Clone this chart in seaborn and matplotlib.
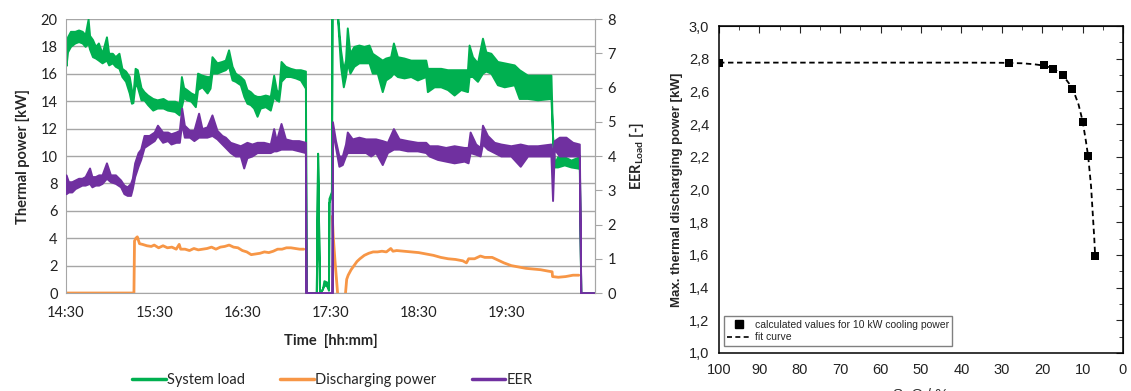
import numpy as np
import pandas as pd
import matplotlib
matplotlib.use("Agg")
import matplotlib.pyplot as plt
from matplotlib.lines import Line2D
from matplotlib.ticker import MultipleLocator, FuncFormatter
import seaborn as sns

# ---------- left panel: minutes after 14:30 ----------
# system load [kW], noise band read as lower / upper edge
green_t = [0, 1, 3, 6, 8.5, 11, 13, 15, 16, 18, 20, 22, 24.5, 27.5, 29, 31.5, 33.5, 36, 38, 40.5,
           43, 44.5, 45.5, 47, 48.5, 51, 53, 55.5, 59, 62, 66, 69, 74, 77, 78.5, 80, 82, 85, 88,
           89.5, 92.5, 96, 98, 99.3, 102.7, 106, 108.4, 110.6, 113, 115.2, 118.6, 121, 123.1,
           125.4, 127.7, 130, 132.2, 135.6, 139, 141.3, 143.1, 144.7, 146.3, 149.3, 152.7, 156.1,
           159.5, 162.9, 163.4, 170.3, 171.2, 172.5, 174.5, 175.5, 177.5, 178.6, 178.9, 180.6,
           181.1, 183.8, 184.6, 186.8, 188.7, 190.2, 191.4, 193.2, 195.9, 199.3, 202.7, 206.2,
           208.4, 211.8, 215.2, 217.5, 220.9, 222.8, 225.5, 230, 234.6, 239.1, 244.8, 245.9,
           250.5, 255, 259.6, 264.1, 268.6, 273.2, 274.3, 276.6, 280, 283.4, 285.7, 289.1, 293.6,
           298.2, 305, 308.4, 314.1, 320.9, 330, 331.1, 332.3, 334.5, 339.1, 343.6, 349.3, 350.3, 360]
green_lo = [16.6, 17.6, 18.0, 18.25, 18.35, 18.25, 18.0, 18.25, 17.8, 17.25, 17.15, 17.0, 16.8, 17.0,
            16.65, 16.8, 16.55, 16.4, 15.8, 15.45, 14.6, 13.85, 13.9, 15.3, 15.05, 14.1, 14.1, 13.75,
            13.35, 13.5, 13.5, 13.35, 13.25, 13.0, 13.6, 14.3, 14.1, 14.0, 13.6, 14.85, 15.05, 14.6,
            14.95, 16.05, 16.05, 16.2, 16.3, 16.55, 15.55, 15.45, 15.2, 14.35, 13.85, 13.75, 13.5,
            12.9, 13.5, 13.6, 13.35, 14.35, 14.1, 14.0, 15.45, 15.8, 15.8, 15.7, 15.55, 14.95, 0, 0,
            10.2, 0, 0.3, 0.6, 0.5, 0.2, 6.6, 7.1, 25, 25, 20.3, 16.55, 15.05, 15.8, 16.8, 16.05,
            16.55, 16.8, 16.8, 16.8, 16.05, 16.05, 14.7, 15.55, 15.8, 16.05, 15.8, 15.7, 15.8, 15.55,
            15.8, 14.7, 15.05, 15.05, 14.85, 14.45, 14.85, 14.7, 15.8, 15.8, 15.45, 16.05, 16.2,
            16.05, 15.2, 15.05, 15.2, 14.2, 14.2, 14.1, 14.2, 11.4, 9.2, 9.2, 9.35, 9.2, 9.1, 0, 0]
green_hi = [17.6, 18.7, 19.1, 19.1, 19.2, 19.1, 18.85, 20.0, 18.8, 18.5, 18.0, 18.25, 17.5, 18.7,
            17.5, 17.5, 17.25, 17.5, 16.4, 16.2, 15.8, 14.85, 14.4, 16.4, 16.3, 15.0, 14.7, 14.45,
            14.2, 14.1, 14.2, 14.0, 14.0, 13.85, 15.8, 15.0, 14.85, 14.6, 14.45, 16.05, 15.9, 15.8,
            15.8, 17.25, 16.8, 16.9, 17.0, 17.75, 16.55, 16.05, 15.8, 15.55, 14.85, 14.7, 14.45,
            14.35, 14.35, 14.45, 14.35, 15.9, 14.85, 14.6, 16.9, 16.55, 16.4, 16.3, 16.3, 16.2, 0, 0,
            10.2, 0, 0.3, 0.9, 0.8, 0.3, 6.9, 7.4, 25, 25, 20.5, 17.75, 16.3, 17.0, 19.35, 17.5,
            18.0, 18.1, 18.0, 18.1, 17.5, 17.25, 17.0, 17.15, 17.25, 18.25, 17.25, 17.15, 17.0, 17.0,
            17.0, 16.4, 16.4, 16.4, 16.3, 16.3, 16.3, 16.3, 18.1, 17.25, 16.8, 18.6, 17.6, 17.5,
            16.9, 16.8, 16.65, 16.3, 15.9, 15.9, 15.9, 11.4, 9.4, 9.95, 9.95, 9.7, 9.95, 0, 0]

# EER [-] (right axis), lower / upper edge of the noise band
eer_t = [0, 1.6, 3.9, 6.2, 8.5, 10.8, 13, 16, 17.6, 19.9, 22.2, 24.5, 27.5, 30.2, 33.6, 37.1, 39.4,
         41.6, 43.9, 45.1, 46.7, 49, 50.8, 53.1, 56.5, 60, 62.2, 65.7, 69.1, 71.4, 74.8, 77.1, 78.7,
         80.5, 84, 87, 90.2, 92.5, 95.9, 99.3, 102.7, 106.1, 108.4, 111.8, 115.2, 118.6, 120.9,
         123.1, 126.5, 130, 134.5, 139, 141.3, 143.1, 146.3, 149.3, 153.8, 158.4, 162.9, 163.3,
         181.0, 181.3, 183.4, 185.7, 188, 190.2, 191.4, 194.8, 199.3, 203.9, 207.3, 210.7, 215.2,
         218.7, 222.8, 226.6, 232.3, 239.1, 244.8, 247.1, 252.8, 258.4, 264.1, 270.9, 273.6, 275,
         278.8, 281.8, 283.4, 286.8, 291.4, 295.9, 302.7, 309.1, 314.1, 320.9, 330, 331.1, 332.3,
         335.7, 340.2, 344.8, 349.3, 350.3, 360]
eer_lo = [2.9, 2.95, 2.95, 3.05, 3.1, 3.15, 3.15, 3.2, 3.1, 3.15, 3.15, 3.2, 3.35, 3.25, 3.2, 3.1,
          2.9, 2.85, 2.85, 3.05, 3.4, 3.7, 3.9, 4.25, 4.35, 4.45, 4.6, 4.4, 4.45, 4.35, 4.4, 4.4,
          4.95, 4.55, 4.55, 4.45, 4.55, 4.55, 4.55, 4.6, 4.5, 4.35, 4.25, 4.1, 4.0, 4.0, 3.65, 3.95,
          4.0, 4.1, 4.1, 4.1, 4.15, 4.15, 4.2, 4.2, 4.2, 4.15, 4.1, 0, 0, 4.75, 4.25, 3.7, 3.75,
          4.0, 4.1, 4.1, 4.1, 4.1, 4.0, 4.1, 3.75, 4.1, 4.2, 4.2, 4.15, 4.15, 4.1, 4.0, 3.9, 3.85,
          3.8, 3.85, 3.8, 4.1, 4.05, 4.0, 4.35, 4.2, 4.1, 4.0, 4.0, 3.7, 4.0, 4.0, 4.0, 2.7, 4.2,
          4.0, 4.0, 4.0, 4.0, 0, 0]
eer_hi = [3.45, 3.25, 3.25, 3.3, 3.35, 3.35, 3.4, 3.65, 3.4, 3.4, 3.45, 3.45, 3.8, 3.45, 3.45, 3.3,
          3.15, 3.1, 3.2, 3.35, 3.8, 4.1, 4.2, 4.6, 4.6, 4.7, 4.9, 4.7, 4.7, 4.65, 4.7, 4.75, 5.4,
          4.9, 4.75, 4.75, 5.25, 4.8, 4.85, 5.2, 4.75, 4.6, 4.55, 4.4, 4.35, 4.3, 4.35, 4.4, 4.35,
          4.4, 4.4, 4.35, 4.8, 4.45, 4.95, 4.5, 4.45, 4.45, 4.4, 0, 0, 5.0, 4.45, 4.0, 4.0, 4.35,
          4.7, 4.5, 4.55, 4.5, 4.5, 4.5, 4.45, 4.4, 4.8, 4.5, 4.45, 4.4, 4.4, 4.3, 4.3, 4.25, 4.3,
          4.25, 4.25, 4.7, 4.35, 4.25, 4.9, 4.6, 4.4, 4.35, 4.3, 4.35, 4.3, 4.3, 4.35, 4.0, 4.45,
          4.55, 4.55, 4.4, 4.35, 0, 0]

# discharging power [kW], NaN = no data
dis_t = [0, 46.2, 46.6, 47.5, 48.5, 50, 52, 55, 58, 60, 63, 66, 69, 72, 75, 77, 78, 81, 84, 87, 90,
         93, 96, 99, 102, 105, 108, 111, 114, 117, 120, 123, 126, 129, 132, 135, 138, 141, 144,
         147, 150, 153, 156, 159, 161.8, np.nan, 181.2, 181.8, 183, 184.8, np.nan, 190.2, 191, 192,
         194, 196, 198, 200, 203, 206, 209, 212, 215, 218, 221, 222.5, 225, 230, 235, 240, 245,
         250, 255, 260, 265, 270, 272.5, 274, 278, 282, 285, 290, 294, 298, 303, 308, 313, 318,
         323, 328, 330.8, 331.1, 335, 340, 345, 349]
dis_kw = [0, 0, 3.8, 4.0, 4.1, 3.6, 3.55, 3.45, 3.4, 3.5, 3.3, 3.45, 3.3, 3.35, 3.2, 3.55, 3.2, 3.2,
          3.1, 3.25, 3.15, 3.2, 3.25, 3.35, 3.2, 3.35, 3.4, 3.5, 3.35, 3.3, 3.1, 3.0, 2.8, 2.85,
          2.9, 3.0, 2.95, 3.05, 3.2, 3.2, 3.3, 3.3, 3.25, 3.2, 3.2, np.nan, 5.6, 4.2, 2.4, 0, np.nan,
          0, 1.0, 1.3, 1.7, 2.0, 2.3, 2.5, 2.75, 2.9, 3.0, 3.0, 3.05, 3.0, 3.25, 3.05, 3.1, 3.05,
          3.0, 2.95, 2.85, 2.75, 2.6, 2.5, 2.45, 2.35, 2.2, 2.5, 2.5, 2.7, 2.6, 2.6, 2.4, 2.2, 2.0,
          1.9, 1.8, 1.75, 1.7, 1.6, 1.55, 1.2, 1.15, 1.2, 1.3, 1.3]

time_ticks = [0, 60, 120, 180, 240, 300]
time_labels = ["14:30", "15:30", "16:30", "17:30", "18:30", "19:30"]

# ---------- right panel ----------
soc_pts = [100, 28.2, 19.6, 17.2, 14.9, 12.5, 10.0, 8.6, 6.9]
pmax_pts = [2.776, 2.776, 2.76, 2.74, 2.70, 2.615, 2.41, 2.206, 1.593]
soc_fit = [100, 40, 30, 25, 22, 19.6, 17.2, 14.9, 12.5, 11, 10, 9.2, 8.6, 7.9, 7.4, 7.1, 6.9]
pmax_fit = [2.776, 2.776, 2.775, 2.772, 2.766, 2.758, 2.74, 2.70, 2.62, 2.52, 2.42, 2.3, 2.2,
            2.02, 1.82, 1.7, 1.6]

GREEN = "#00b050"
ORANGE = "#f79646"
PURPLE = "#7030a0"
GRID = "#a6a6a6"

sns.set_style("white")
plt.rcParams["font.family"] = ["Lato", "DejaVu Sans"]
plt.rcParams["mathtext.fontset"] = "custom"
plt.rcParams["mathtext.rm"] = "Lato"
plt.rcParams["mathtext.bf"] = "Lato:bold"

fig = plt.figure(figsize=(11.31, 3.91), dpi=100)

# left panel
ax = fig.add_axes([0.0584, 0.2506, 0.4677, 0.7008])
ax2 = ax.twinx()

ax.fill_between(green_t, green_lo, green_hi, color=GREEN, lw=1.4)
dis = pd.DataFrame({"t": dis_t, "kw": dis_kw})
dis["seg"] = dis["t"].isna().cumsum()
dis = dis.dropna()
sns.lineplot(data=dis, x="t", y="kw", units="seg", estimator=None, sort=False,
             color=ORANGE, lw=2.0, ax=ax)
ax2.fill_between(eer_t, eer_lo, eer_hi, color=PURPLE, lw=1.4)

ax.set_xlim(0, 360)
ax.set_ylim(0, 20)
ax2.set_ylim(0, 8)
ax.set_yticks(range(0, 21, 2))
ax2.set_yticks(range(0, 9))
ax.set_xticks(time_ticks, time_labels)
ax.yaxis.grid(True, color=GRID, lw=1)
ax.xaxis.grid(False)
ax.set_axisbelow(True)

ax.tick_params(axis="y", length=0, labelsize=10.5, pad=6, labelcolor="#222222")
ax.tick_params(axis="x", length=5, color=GRID, labelsize=10.5, pad=4, labelcolor="#222222")
ax2.tick_params(axis="y", length=5, color=GRID, labelsize=10.5, pad=4, labelcolor="#222222")
for a in (ax, ax2):
    a.spines["top"].set_visible(False)
    for s in ("left", "bottom", "right"):
        a.spines[s].set_color(GRID)
ax2.spines["left"].set_visible(False)
ax2.spines["bottom"].set_visible(False)

ax.set_ylabel("Thermal power [kW]", fontsize=10.5, fontweight="bold", labelpad=8)
ax.set_xlabel("Time  [hh:mm]", fontsize=10.5, fontweight="bold", labelpad=10)
ax2.set_ylabel(r"$\mathbf{EER}_{\mathbf{Load}}$ [-]", fontsize=10.5, fontweight="bold", labelpad=8)

handles = [Line2D([], [], color=GREEN, lw=2.5),
           Line2D([], [], color=ORANGE, lw=2.5),
           Line2D([], [], color=PURPLE, lw=2.5)]
fig.legend(handles, ["System load", "Discharging power", "EER"], loc="center",
           bbox_to_anchor=(0.294, 0.028), ncol=3, frameon=False, fontsize=10.5,
           handlelength=2.3, handletextpad=0.1, columnspacing=2.4)

# right panel
RF = "Liberation Sans"
ax3 = fig.add_axes([0.6357, 0.0972, 0.3572, 0.8363])
sns.lineplot(x=soc_fit, y=pmax_fit, ax=ax3, color="black", lw=1.3, sort=False,
             estimator=None, linestyle=(0, (3, 2)))
sns.scatterplot(x=soc_pts, y=pmax_pts, ax=ax3, marker="s", s=38, color="black",
                edgecolor="black", linewidth=0, zorder=3)
ax3.set_xlim(100, 0)
ax3.set_ylim(1.0, 3.0)
ax3.xaxis.set_major_locator(MultipleLocator(10))
ax3.xaxis.set_minor_locator(MultipleLocator(5))
ax3.yaxis.set_major_locator(MultipleLocator(0.2))
ax3.yaxis.set_minor_locator(MultipleLocator(0.1))
ax3.xaxis.set_major_formatter(FuncFormatter(lambda v, p: f"{v:.0f}"))
ax3.yaxis.set_major_formatter(FuncFormatter(lambda v, p: f"{v:.1f}".replace(".", ",")))
ax3.tick_params(which="major", direction="out", length=5, width=1, labelsize=10.5, pad=2,
                labelfontfamily=RF, labelcolor="#222222")
ax3.tick_params(which="minor", direction="in", length=3, width=1)
for s in ax3.spines.values():
    s.set_color("black")
    s.set_linewidth(1.1)

top = ax3.secondary_xaxis("top")
top.xaxis.set_major_locator(MultipleLocator(10))
top.xaxis.set_minor_locator(MultipleLocator(5))
top.tick_params(which="major", direction="in", length=5, labeltop=False)
top.tick_params(which="minor", direction="in", length=3)
right = ax3.secondary_yaxis("right")
right.yaxis.set_major_locator(MultipleLocator(0.2))
right.yaxis.set_minor_locator(MultipleLocator(0.1))
right.tick_params(which="major", direction="in", length=5, labelright=False)
right.tick_params(which="minor", direction="in", length=3)

ax3.set_ylabel("Max. thermal discharging power [kW]", fontsize=9.5, fontweight="bold",
               family=RF, labelpad=4)
ax3.set_xlabel("")
fig.text(0.8143, 0.008, "SoC / %", ha="center", va="top", fontsize=11, family=RF,
         color="#333333")

leg_handles = [Line2D([], [], marker="s", ls="none", color="black", ms=5.5),
               Line2D([], [], color="black", lw=1.2, ls=(0, (3, 2)))]
ax3.legend(leg_handles, ["calculated values for 10 kW cooling power", "fit curve"],
           loc="lower left", bbox_to_anchor=(0.012, 0.021), borderaxespad=0,
           prop={"family": RF, "size": 7.5}, frameon=True, fancybox=False, framealpha=1,
           edgecolor="#808080", borderpad=0.35, labelspacing=0.25, handlelength=2.2,
           handletextpad=0.4)

fig.savefig("out.png", dpi=100)
